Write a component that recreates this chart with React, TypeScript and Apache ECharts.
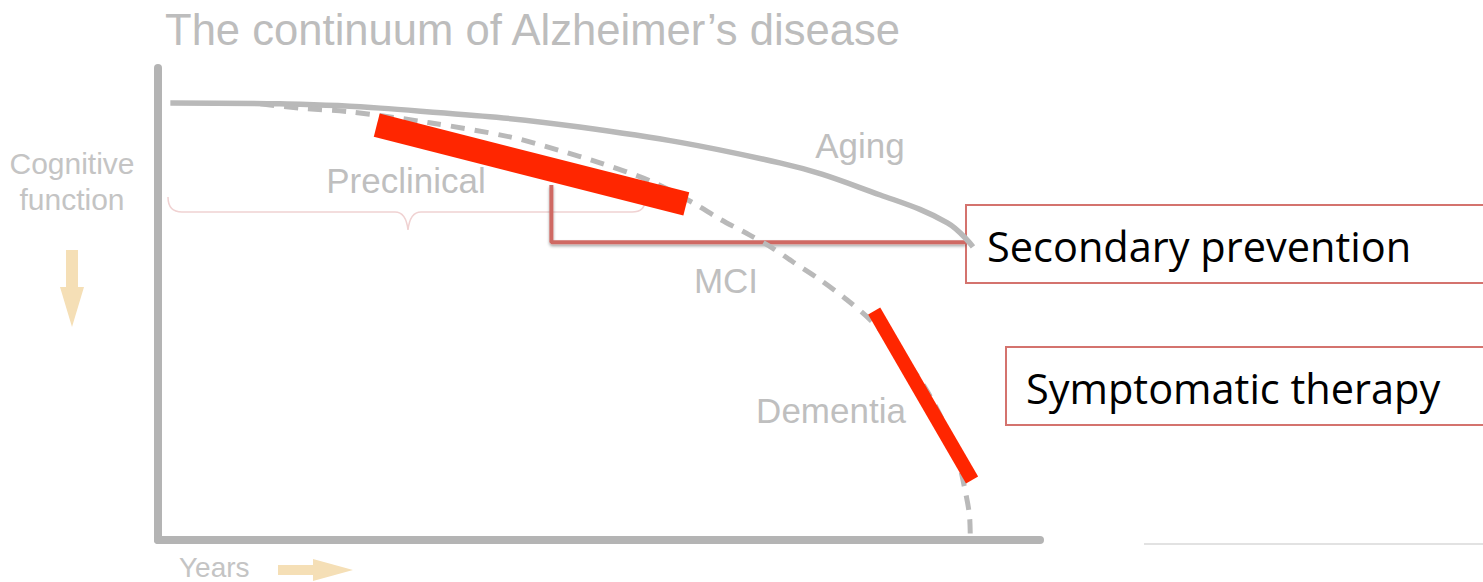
import React, { useEffect, useRef } from "react";
import * as echarts from "echarts";

// ---- data (abstract units: years 0..100, cognitive function 0..100) ----
const agingX = [1.4, 13.8, 25.2, 47.8, 70.5, 81.9, 89.5, 92.4];
const agingY = [92.6, 92.4, 91.5, 87.5, 79.9, 73.1, 67.2, 62.1];

const adX = [11.6, 16.1, 21.8, 30.8, 39.9, 45.4, 50.1, 55.8, 60.7, 63.7, 67.1, 69.8, 72.0, 75.1, 78.1, 81.0, 84.1, 87.0, 89.2, 90.7, 91.5, 92.0, 92.1];
const adY = [92.4, 91.5, 90.7, 88.4, 85.4, 82.6, 79.9, 76.1, 71.4, 68.0, 64.6, 61.7, 58.9, 55.1, 50.9, 46.2, 39.8, 32.2, 24.4, 17.0, 10.6, 5.3, 0];

const secondaryBarX = [24.8, 59.9];
const secondaryBarY = [87.9, 71.2];
const symptomaticBarX = [81.2, 92.3];
const symptomaticBarY = [48.5, 12.7];

const secondaryLinkX = [44.6, 44.6, 91.6];
const secondaryLinkY = [75.2, 63.1, 63.1];
const symptomaticLinkX = [87.4, 96.2];
const symptomaticLinkY = [32.4, 32.4];

const titleText = "The continuum of Alzheimer\u2019s disease";
const stageLabels = ["Aging", "Preclinical", "MCI", "Dementia"];
const calloutLabels = ["Secondary prevention", "Symptomatic therapy"];

const zip = (xs: number[], ys: number[]) => xs.map((x, i) => [x, ys[i]]);

echarts.graphic.registerShape(
  "brace",
  echarts.graphic.extendPath(
    "M168,197 Q168,212 182,212 L395,212 Q406,212 408,230 Q410,212 421,212 L632,212 Q645,212 645,200",
    {}
  )
);

const GRAY_TXT = "#bfbfbf";
const LABEL_FONT = '"Liberation Sans", Arial, sans-serif';
const BOX_FONT = '"Open Sans", sans-serif';
const RED = "#ff2600";
const LINK = "#cf6964";
const TAN = "#f5dfb6";

export default function App() {
  const ref = useRef<HTMLDivElement>(null);
  useEffect(() => {
    if (!ref.current) return;
    const chart = echarts.init(ref.current, undefined, { renderer: "svg" });
    const hiddenAxis = (min: number, max: number) => ({
      type: "value" as const,
      min,
      max,
      axisLine: { show: true, lineStyle: { color: "#b4b4b4", width: 8 } },
      axisTick: { show: false },
      axisLabel: { show: false },
      splitLine: { show: false },
    });
    const linkStyle = {
      color: LINK,
      width: 4,
      shadowColor: "rgba(0,0,0,0.35)",
      shadowBlur: 3,
      shadowOffsetY: 2,
    };
    const label = (text: string, x: number, y: number) => ({
      type: "text",
      x,
      y,
      style: { text, fontSize: 35, fontFamily: LABEL_FONT, fill: GRAY_TXT, align: "center", verticalAlign: "middle" },
    });
    chart.setOption({
      animation: false,
      backgroundColor: "#ffffff",
      grid: { left: 158, right: 443, top: 68, bottom: 42, containLabel: false },
      xAxis: hiddenAxis(0, 100),
      yAxis: hiddenAxis(0, 100),
      series: [
        {
          name: "Secondary link",
          type: "line",
          data: zip(secondaryLinkX, secondaryLinkY),
          showSymbol: false,
          clip: false,
          z: 1,
          lineStyle: linkStyle,
        },
        {
          name: "Symptomatic link",
          type: "line",
          data: zip(symptomaticLinkX, symptomaticLinkY),
          showSymbol: false,
          clip: false,
          z: 1,
          lineStyle: linkStyle,
        },
        {
          name: "Aging",
          type: "line",
          data: zip(agingX, agingY),
          smooth: 0.4,
          showSymbol: false,
          z: 3,
          lineStyle: { color: "#b9b9b9", width: 5.5 },
        },
        {
          name: "Alzheimer's disease",
          type: "line",
          data: zip(adX, adY),
          smooth: 0.3,
          showSymbol: false,
          z: 3,
          lineStyle: { color: "#b9b9b9", width: 5, type: [14, 10] },
        },
        {
          name: "Secondary prevention",
          type: "line",
          data: zip(secondaryBarX, secondaryBarY),
          showSymbol: false,
          z: 5,
          lineStyle: { color: RED, width: 24, cap: "butt" },
        },
        {
          name: "Symptomatic therapy",
          type: "line",
          data: zip(symptomaticBarX, symptomaticBarY),
          showSymbol: false,
          z: 5,
          lineStyle: { color: RED, width: 14, cap: "butt" },
        },
      ],
      graphic: [
        {
          type: "text",
          x: 165,
          y: 30,
          style: {
            text: titleText,
            fontSize: 43.6,
            fontFamily: LABEL_FONT,
            fill: "#bdbdbd",
            align: "left",
            verticalAlign: "middle",
          },
        },
        {
          type: "text",
          x: 72,
          y: 181,
          style: {
            text: "Cognitive\nfunction",
            fontSize: 30,
            lineHeight: 36,
            fontFamily: LABEL_FONT,
            fill: "#c4c4c4",
            align: "center",
            verticalAlign: "middle",
          },
        },
        {
          type: "polygon",
          shape: {
            points: [
              [66, 250], [78, 250], [78, 287], [84, 287], [72, 327], [60, 287], [66, 287],
            ],
          },
          style: { fill: TAN },
        },
        {
          type: "text",
          x: 179,
          y: 567,
          style: {
            text: "Years",
            fontSize: 28,
            fontFamily: LABEL_FONT,
            fill: "#c4c4c4",
            align: "left",
            verticalAlign: "middle",
          },
        },
        {
          type: "polygon",
          shape: {
            points: [
              [278, 565], [313, 565], [313, 559], [353, 570], [313, 581], [313, 575], [278, 575],
            ],
          },
          style: { fill: TAN },
        },
        {
          type: "line",
          shape: { x1: 1144, y1: 544, x2: 1483, y2: 544 },
          style: { stroke: "#e2e2e2", lineWidth: 2 },
        },
        {
          type: "brace",
          x: 0,
          y: 0,
          style: { fill: "none", stroke: "#f0d2d2", lineWidth: 1.5 },
        },
        label(stageLabels[0], 860, 145),
        label(stageLabels[1], 406, 180),
        label(stageLabels[2], 726, 280),
        label(stageLabels[3], 831, 410),
        {
          type: "rect",
          shape: { x: 966, y: 205, width: 540, height: 78 },
          style: { fill: "#ffffff", stroke: "#d4736e", lineWidth: 2 },
        },
        {
          type: "text",
          x: 987,
          y: 246,
          style: { text: calloutLabels[0], fontSize: 41.5, fontFamily: BOX_FONT, fill: "#000000", align: "left", verticalAlign: "middle" },
        },
        {
          type: "rect",
          shape: { x: 1006, y: 347, width: 500, height: 78 },
          style: { fill: "#ffffff", stroke: "#d4736e", lineWidth: 2 },
        },
        {
          type: "text",
          x: 1026,
          y: 388,
          style: { text: calloutLabels[1], fontSize: 41.5, fontFamily: BOX_FONT, fill: "#000000", align: "left", verticalAlign: "middle" },
        },
      ],
    });
    return () => chart.dispose();
  }, []);
  return (
    <div
      ref={ref}
      style={{ position: "absolute", left: 0, top: 0, width: 1483, height: 582 }}
    />
  );
}
